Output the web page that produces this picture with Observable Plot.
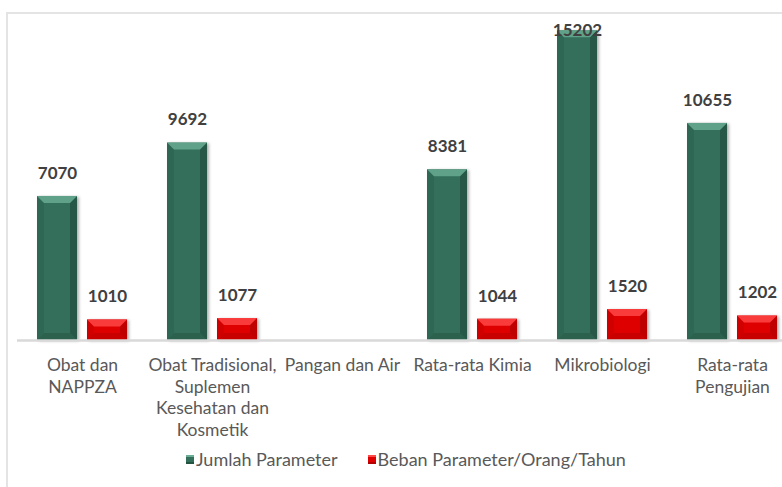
<!DOCTYPE html>
<html><head><meta charset="utf-8">
<script src="https://cdn.jsdelivr.net/npm/d3@7"></script>
<script src="https://cdn.jsdelivr.net/npm/@observablehq/plot@0.6"></script>
<style>
html,body{margin:0;padding:0;background:#fff;overflow:hidden;width:782px;height:487px;position:relative}
#frame{position:absolute;left:6px;top:12px;width:900px;height:600px;border:2px solid #e4e4e4;box-sizing:border-box}
#chart{position:absolute;left:0;top:0;width:800px}
#chart svg{max-width:none !important}
#legend{position:absolute;left:186px;top:448px;display:flex;gap:30px;font:18px Lato, sans-serif;color:#595959;white-space:nowrap}
#legend .item{display:flex;align-items:center;gap:2px}
#legend .sw{width:8px;height:9px;display:inline-block}
</style></head>
<body>
<div id="frame"></div>
<div id="chart"></div>
<div id="legend"></div>
<script>
const categories = ["Obat dan NAPPZA","Obat Tradisional, Suplemen Kesehatan dan Kosmetik","Pangan dan Air","Rata-rata Kimia","Mikrobiologi","Rata-rata Pengujian"];
const tickLabels = ["Obat dan\nNAPPZA","Obat Tradisional,\nSuplemen\nKesehatan dan\nKosmetik","Pangan dan Air","Rata-rata Kimia","Mikrobiologi","Rata-rata\nPengujian"];
const jumlahParameter = [7070, 9692, null, 8381, 15202, 10655];
const bebanParameter = [1010, 1077, null, 1044, 1520, 1202];
const seriesNames = ["Jumlah Parameter","Beban Parameter/Orang/Tahun"];
const seriesColors = ["#336f5b","#de0000"];

const jData = categories.map((c,i)=>({cat:c, v:jumlahParameter[i]})).filter(d=>d.v!=null);
const bData = categories.map((c,i)=>({cat:c, v:bebanParameter[i]})).filter(d=>d.v!=null);
const labelMap = new Map(categories.map((c,i)=>[c,tickLabels[i]]));
const yMax = 16000;

const labelStyle = {fontSize:17, fontWeight:"bold", fill:"#404040", fontFamily:"Lato, sans-serif", lineAnchor:"middle"};

const svg = Plot.plot({
  width: 800, height: 445,
  marginLeft: 17, marginRight: 3, marginTop: 14, marginBottom: 105,
  style: {fontFamily:"Lato, sans-serif", background:"transparent", overflow:"visible", maxWidth:"none"},
  x: {domain: categories, paddingInner: 40/130, paddingOuter: 20/130, axis: null},
  y: {domain: [0, yMax], axis: null},
  marks: [
    Plot.barY(jData, {x:"cat", y:"v", fill:seriesColors[0], insetRight:50}),
    Plot.barY(bData, {x:"cat", y:"v", fill:seriesColors[1], insetLeft:50}),
    Plot.ruleY([0], {stroke:"#d9d9d9", strokeWidth:2.5}),
    Plot.text(jData.filter(d=>d.v < 14500), {x:"cat", y:"v", text:d=>String(d.v), dx:-25, dy:-23, ...labelStyle}),
    Plot.text(jData.filter(d=>d.v >= 14500), {x:"cat", y:"v", text:d=>String(d.v), dx:-25, dy:0, ...labelStyle}),
    Plot.text(bData, {x:"cat", y:"v", text:d=>String(d.v), dx:25, dy:-23, ...labelStyle}),
    Plot.axisX({tickSize:0, tickPadding:15, fontSize:17.5, fill:"#595959", lineHeight:1.24, lineAnchor:"top",
      tickFormat: d=>labelMap.get(d), label:null})
  ]
});

// bevel decoration on bars
const palettes = [
  {top:"#6cae95", left:"#2b6350", right:"#1f4a3b", bottom:"#24543f"},
  {top:"#ff4a4a", left:"#c80000", right:"#a80000", bottom:"#b30000"}
];
const ns = "http://www.w3.org/2000/svg";
svg.querySelectorAll('g[aria-label="bar"]').forEach((g, gi) => {
  const pal = palettes[gi];
  g.style.filter = "drop-shadow(2px 1px 1.5px rgba(0,0,0,0.3))";
  g.querySelectorAll("rect").forEach(r => {
    const x = +r.getAttribute("x"), y = +r.getAttribute("y"), w = +r.getAttribute("width"), h = +r.getAttribute("height");
    const b = Math.min(7, h/2.6, w/2);
    const polys = [
      [[x,y],[x+w,y],[x+w-b,y+b],[x+b,y+b], pal.top, 0.8],
      [[x,y],[x+b,y+b],[x+b,y+h-b],[x,y+h], pal.left, 0.6],
      [[x+w,y],[x+w-b,y+b],[x+w-b,y+h-b],[x+w,y+h], pal.right, 0.6],
      [[x,y+h],[x+b,y+h-b],[x+w-b,y+h-b],[x+w,y+h], pal.bottom, 0.5]
    ];
    polys.forEach(p => {
      const el = document.createElementNS(ns, "polygon");
      el.setAttribute("points", p.slice(0,4).map(q=>q.join(",")).join(" "));
      el.setAttribute("fill", p[4]);
      el.setAttribute("fill-opacity", p[5]);
      r.parentNode.insertBefore(el, r.nextSibling);
    });
  });
});
document.getElementById("chart").appendChild(svg);

const legend = document.getElementById("legend");
const swGrad = [
  "linear-gradient(#6cae95 0 25%, #336f5b 25% 75%, #24543f 75%)",
  "linear-gradient(#ff4a4a 0 25%, #de0000 25% 75%, #b30000 75%)"
];
seriesNames.forEach((n,i) => {
  const it = document.createElement("div"); it.className = "item";
  const sw = document.createElement("span"); sw.className = "sw"; sw.style.background = swGrad[i];
  const t = document.createElement("span"); t.textContent = n;
  it.appendChild(sw); it.appendChild(t); legend.appendChild(it);
});
</script>
</body></html>
